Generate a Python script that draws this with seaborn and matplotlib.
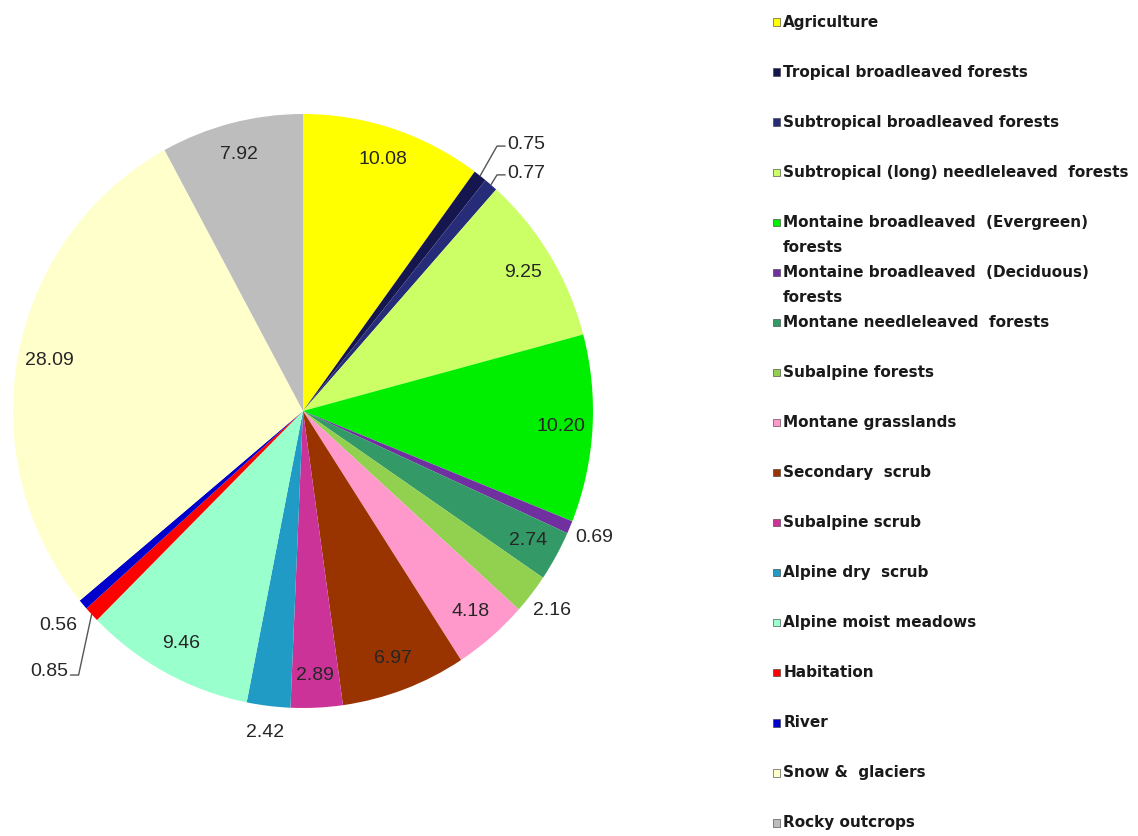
import numpy as np
import matplotlib
matplotlib.use("Agg")
import matplotlib.pyplot as plt
import seaborn as sns

sns.set_theme(style="white")
plt.rcParams['font.family'] = ['DejaVu Sans']

# ---- data ----
categories = [
    "Agriculture",
    "Tropical broadleaved forests",
    "Subtropical broadleaved forests",
    "Subtropical (long) needleleaved  forests",
    "Montaine broadleaved  (Evergreen)\nforests",
    "Montaine broadleaved  (Deciduous)\nforests",
    "Montane needleleaved  forests",
    "Subalpine forests",
    "Montane grasslands",
    "Secondary  scrub",
    "Subalpine scrub",
    "Alpine dry  scrub",
    "Alpine moist meadows",
    "Habitation",
    "River",
    "Snow &  glaciers",
    "Rocky outcrops",
]
values = [10.08, 0.75, 0.77, 9.25, 10.20, 0.69, 2.74, 2.16, 4.18, 6.97,
          2.89, 2.42, 9.46, 0.85, 0.56, 28.09, 7.92]
value_labels = ["10.08", "0.75", "0.77", "9.25", "10.20", "0.69", "2.74", "2.16",
                "4.18", "6.97", "2.89", "2.42", "9.46", "0.85", "0.56", "28.09", "7.92"]
colors = ["#FFFF00", "#16164E", "#262C78", "#CCFF66", "#00EE00", "#7030A0",
          "#339966", "#92D050", "#FF99CC", "#993300", "#CC3399", "#1F9BC6",
          "#99FFCC", "#FF0000", "#0000CC", "#FFFFCC", "#BDBDBD"]
# label placement style per slice
placement = ["in", "leader", "leader", "in", "in", "out", "in", "out", "in", "in",
             "in", "out", "in", "leader", "near", "in", "in"]

W, H = 1138, 836
fig = plt.figure(figsize=(W / 100, H / 100), dpi=100)

# pie axes (center ~ (303,411) px, radii 290 x 297 px)
cx, cy, rx, ry = 303, 411, 290, 297
ax = fig.add_axes([(cx - rx) / W, (H - cy - ry) / H, 2 * rx / W, 2 * ry / H])
wedges, _ = ax.pie(values, colors=colors, startangle=90, counterclock=False,
                   wedgeprops=dict(linewidth=0))
ax.set_aspect('auto')
ax.set_xlim(-1, 1)
ax.set_ylim(-1, 1)
ax.axis('off')

lab_font = dict(family='Liberation Sans', fontsize=14, color='#262626')
line_kw = dict(color='#555555', lw=1.0, clip_on=False)

for w, lab, mode in zip(wedges, value_labels, placement):
    ang = np.deg2rad((w.theta1 + w.theta2) / 2)
    ca, sa = np.cos(ang), np.sin(ang)
    if mode == "in":
        ax.text(0.89 * ca, 0.89 * sa, lab, ha='center', va='center', **lab_font)
    elif mode == "out":
        ax.text(1.09 * ca, 1.09 * sa, lab, ha='center', va='center', **lab_font)
    elif mode == "near":
        ax.text(ca - 0.02, sa - 0.07, lab, ha='right', va='center', **lab_font)
    else:  # leader
        ex, ey = ca, sa
        if ex > 0:
            ty = 0.892 if lab == "0.75" else 0.795
            elx = 0.669
            ax.plot([ex, elx, elx + 0.028], [ey, ty, ty], **line_kw)
            ax.text(elx + 0.034, ty + 0.004, lab, ha='left', va='center', **lab_font)
        else:
            ty = -0.889
            elx = ex - 0.045
            ax.plot([ex, elx, elx - 0.028], [ey, ty, ty], **line_kw)
            ax.text(elx - 0.034, ty + 0.012, lab, ha='right', va='center', **lab_font)

# legend axes (manual, to match the spacing of the reference)
lax = fig.add_axes([770 / W, 0, 368 / W, 1])
lax.set_xlim(0, 1)
first_px, step_px = 22, 50.06
lax.set_ylim((H - first_px) / step_px, -first_px / step_px)
lax.axis('off')
ypos = np.arange(len(categories))
lax.scatter(np.full(len(categories), 0.017), ypos, marker='s', s=28,
            c=colors, edgecolors='#333333', linewidths=0.4, clip_on=False)
for y, name in zip(ypos, categories):
    for k, line in enumerate(name.split("\n")):
        lax.text(0.036, y + 0.5 * k, line, ha='left', va='center',
                 fontsize=11, fontweight='bold', color='#1a1a1a')

fig.savefig("out.png", dpi=100, facecolor='white')
